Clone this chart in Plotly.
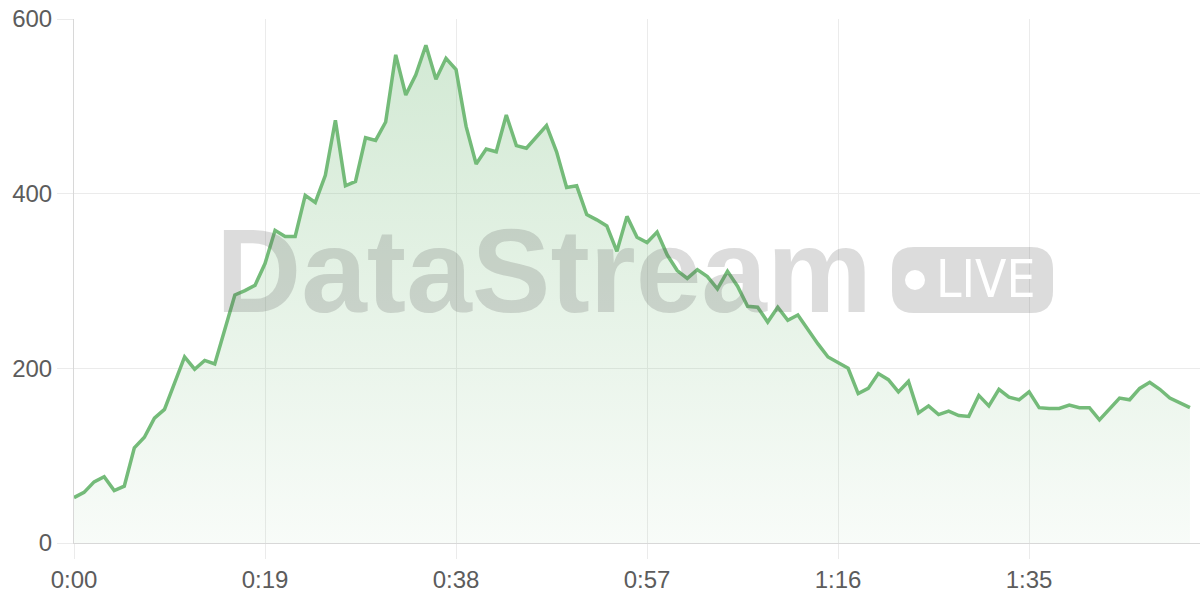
import plotly.graph_objects as go

# ---- data ----
seconds = list(range(112))
values = [52, 58, 70, 76, 60, 65, 109, 121, 143, 153,
          183, 213, 199, 209, 205, 244, 284, 289, 295, 320,
          358, 351, 351, 398, 390, 421, 484, 409, 414, 464,
          461, 482, 559, 513, 536, 570, 531, 555, 542, 477,
          434, 451, 448, 490, 455, 452, 465, 478, 448, 407,
          409, 376, 370, 363, 334, 374, 350, 344, 356, 330,
          312, 303, 313, 305, 291, 311, 294, 271, 270, 253,
          270, 255, 261, 244, 228, 213, 206, 200, 171, 177,
          194, 187, 173, 185, 149, 157, 147, 151, 146, 145,
          169, 157, 176, 167, 164, 173, 155, 154, 154, 158,
          155, 155, 141, 153, 166, 164, 177, 184, 176, 166,
          160, 155]
x_tickvals = [0, 19, 38, 57, 76, 95]
x_ticktext = ["0:00", "0:19", "0:38", "0:57", "1:16", "1:35"]
y_tickvals = [0, 200, 400, 600]

# ---- layout geometry (pixels) ----
W, H = 1200, 600
ML, MR, MT, MB = 74, 0, 19, 57
PL, PR, PT, PB = ML, W - MR, MT, H - MB


def px(x):
    return (x - PL) / (PR - PL)


def py(y):
    return (PB - y) / (PB - PT)


LINE = "#74bb79"

fig = go.Figure()
fig.add_trace(go.Scatter(
    x=seconds, y=values, mode="lines",
    line=dict(color=LINE, width=3.5),
    fill="tozeroy",
    fillgradient=dict(type="vertical",
                      colorscale=[[0, "rgba(116,187,121,0.05)"],
                                  [1, "rgba(116,187,121,0.32)"]]),
    hoverinfo="skip", showlegend=False,
))

# ---- watermark ----
wm_color = "rgba(90,90,90,0.21)"
bx0, bx1, by0, by1, r = 892, 1053, 247, 313, 22
path = (f"M {px(bx0 + r)} {py(by0)} L {px(bx1 - r)} {py(by0)} "
        f"Q {px(bx1)} {py(by0)} {px(bx1)} {py(by0 + r)} "
        f"L {px(bx1)} {py(by1 - r)} "
        f"Q {px(bx1)} {py(by1)} {px(bx1 - r)} {py(by1)} "
        f"L {px(bx0 + r)} {py(by1)} "
        f"Q {px(bx0)} {py(by1)} {px(bx0)} {py(by1 - r)} "
        f"L {px(bx0)} {py(by0 + r)} "
        f"Q {px(bx0)} {py(by0)} {px(bx0 + r)} {py(by0)} Z")
fig.add_shape(type="path", path=path, xref="paper", yref="paper",
              fillcolor=wm_color, line=dict(width=0), layer="above")
cx, cy, cr = 915, 280, 10
fig.add_shape(type="circle", xref="paper", yref="paper",
              x0=px(cx - cr), x1=px(cx + cr), y0=py(cy + cr), y1=py(cy - cr),
              fillcolor="white", line=dict(width=0), layer="above")

fig.add_annotation(text="DataStream", xref="paper", yref="paper",
                   x=px(544), y=py(271), xanchor="center", yanchor="middle",
                   showarrow=False,
                   font=dict(family="Liberation Sans", size=118, color=wm_color,
                             weight="bold"))
fig.add_annotation(text="LIVE", xref="paper", yref="paper",
                   x=px(985), y=py(279), xanchor="center", yanchor="middle",
                   showarrow=False,
                   font=dict(family="Liberation Sans Narrow, DejaVu Sans Condensed, Liberation Sans",
                             size=51, color="white"))

tick_font = dict(family="Liberation Sans", size=24, color="#5c5c5c")

fig.update_layout(
    width=W, height=H,
    margin=dict(l=ML, r=MR, t=MT, b=MB),
    paper_bgcolor="white", plot_bgcolor="white",
    xaxis=dict(range=[0, 112], tickvals=x_tickvals, ticktext=x_ticktext,
               showgrid=True, gridcolor="#ebebeb", gridwidth=1,
               ticks="outside", ticklen=15, tickcolor="#ebebeb", tickwidth=1,
               showline=True, linecolor="#d8d8d8", linewidth=1,
               zeroline=False, tickfont=tick_font, fixedrange=True),
    yaxis=dict(range=[0, 600], tickvals=y_tickvals,
               showgrid=True, gridcolor="#ebebeb", gridwidth=1,
               ticks="outside", ticklen=16, tickcolor="#ebebeb", tickwidth=1,
               showline=True, linecolor="#d8d8d8", linewidth=1,
               zeroline=False, tickfont=tick_font, fixedrange=True),
)

fig.write_html("out.html", config={"displayModeBar": False},
               post_script="document.body.style.margin='0';document.body.style.overflow='hidden';")
